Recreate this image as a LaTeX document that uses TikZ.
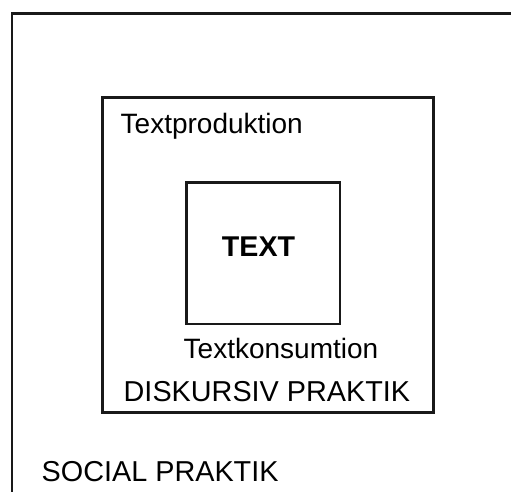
\documentclass[tikz,border=0pt]{standalone}
\usepackage{fontspec}
\setmainfont{Liberation Sans}
\begin{document}
\begin{tikzpicture}[x=1pt,y=-1pt,
  frame/.style={draw=black!90,line width=2.4pt,rectangle,inner sep=0pt},
  lbl/.style={inner sep=0pt,anchor=base west,font=\fontsize{28}{30}\selectfont},
  caps/.style={inner sep=0pt,anchor=base west,font=\fontsize{28.8}{30}\selectfont}]
\useasboundingbox (0,0) rectangle (511,491);
% outer frame (only top and left edges visible)
\coordinate (ob) at (12,495);
\coordinate (otl) at (12,13.3);
\coordinate (otr) at (515,13.3);
\draw[draw=black!90,line width=2.4pt] (ob) -- (otl) -- (otr);
% middle box
\node[frame,minimum width=331pt,minimum height=315pt] (mid) at (268,255) {};
% inner box
\node[frame,minimum width=153.5pt,minimum height=141.5pt] (inner) at (263.4,253.4) {};
\node[inner sep=0pt,anchor=base,font=\fontsize{28.6}{30}\selectfont\bfseries] (text) at (258.5,256.7) {TEXT};
\node[lbl] (prod) at (120.5,133.3) {Textproduktion};
\node[lbl] (kons) at (183.5,358) {Textkonsumtion};
\node[caps] (disk) at (123.5,401.7) {DISKURSIV PRAKTIK};
\node[caps] (soc) at (41.5,481.7) {SOCIAL PRAKTIK};
\end{tikzpicture}
\end{document}
